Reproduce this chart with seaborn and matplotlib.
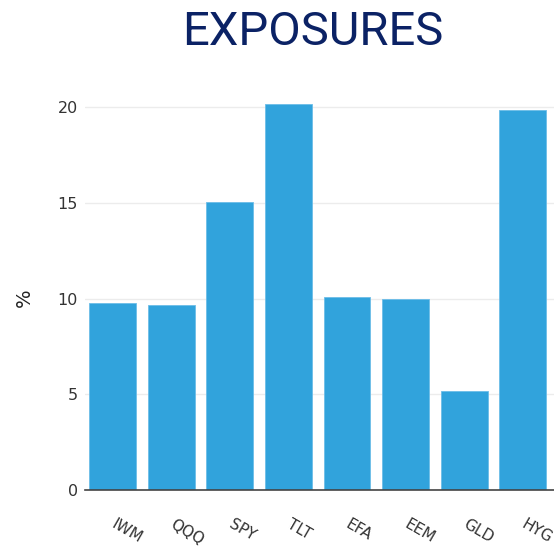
import matplotlib
matplotlib.use("Agg")
import matplotlib.pyplot as plt
import seaborn as sns
import pandas as pd

tickers = ["IWM", "QQQ", "SPY", "TLT", "EFA", "EEM", "GLD", "HYG"]
exposure_pct = [9.77, 9.66, 15.04, 20.16, 10.08, 9.97, 5.17, 19.84]
y_ticks = [0, 5, 10, 15, 20]

sns.set_theme(style="white")
plt.rcParams['font.family'] = ['DejaVu Sans']

df = pd.DataFrame({"ticker": tickers, "pct": exposure_pct})

fig = plt.figure(figsize=(5.54, 5.51), dpi=100)
ax = fig.add_axes([0.1534, 0.1107, 0.8466, 0.7368])

sns.barplot(data=df, x="ticker", y="pct", color="#31a3dc", saturation=1,
            width=0.8, edgecolor="#6cbde8", linewidth=0.6, ax=ax, zorder=3)

ax.set_xlim(-0.47, 7.53)
ax.set_ylim(0, 21.2)
ax.set_yticks(y_ticks)
ax.yaxis.grid(True, color="#ececec", linewidth=1, zorder=0)
ax.xaxis.grid(False)

for side in ["top", "right", "left"]:
    ax.spines[side].set_visible(False)
ax.spines["bottom"].set_color("#444444")
ax.spines["bottom"].set_linewidth(1.2)
ax.spines["bottom"].set_zorder(4)

ax.tick_params(axis="y", length=0, pad=5, labelsize=11.5, labelcolor="#333333")
ax.tick_params(axis="x", length=0, pad=24, labelsize=11, labelcolor="#333333")
for lbl in ax.get_xticklabels():
    lbl.set_rotation(-30)
    lbl.set_ha("left")
    lbl.set_va("center")
    lbl.set_rotation_mode("anchor")

ax.set_xlabel("")
ax.set_ylabel("%", fontsize=14, color="#222222")
ax.yaxis.set_label_coords(-0.108, 0.473)

fig.text(0.565, 0.918, "EXPOSURES", ha="center", va="baseline",
         fontsize=34, color="#0b2265", family=["Roboto", "DejaVu Sans"])

fig.savefig("out.png", dpi=100)
